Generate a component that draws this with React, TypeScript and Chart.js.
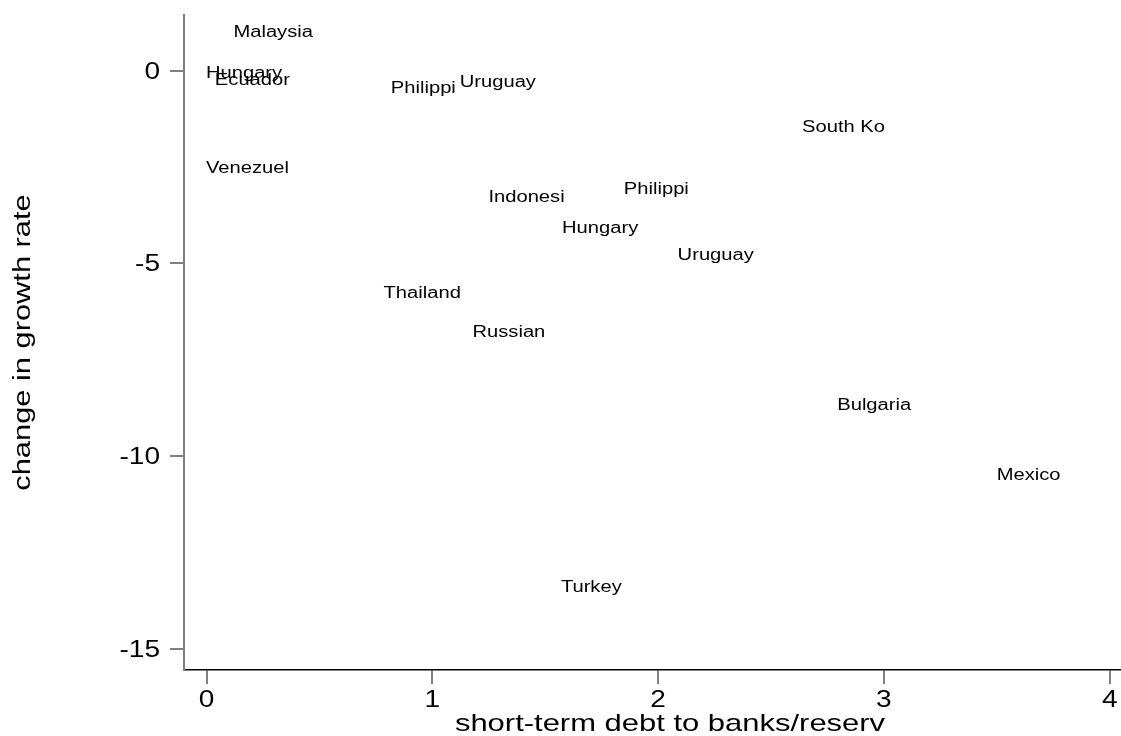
import React, { useEffect, useRef } from "react";
import { Chart, registerables } from "chart.js";

Chart.register(...registerables);

const countries = ["Malaysia", "Hungary", "Ecuador", "Philippi", "Uruguay", "South Ko", "Venezuel", "Indonesi", "Philippi", "Hungary", "Uruguay", "Thailand", "Russian", "Bulgaria", "Mexico", "Turkey"];
const debtToReserves = [0.295, 0.166, 0.203, 0.96, 1.29, 2.821, 0.181, 1.417, 1.992, 1.743, 2.255, 0.955, 1.339, 2.957, 3.641, 1.704];
const growthChange = [0.99, -0.08, -0.25, -0.48, -0.31, -1.48, -2.54, -3.3, -3.09, -4.11, -4.8, -5.78, -6.8, -8.69, -10.51, -13.4];
const xTicks = [0, 1, 2, 3, 4];
const yTicks = [0, -5, -10, -15];
const xTitle = "short-term debt to banks/reserv";
const yTitle = "change in growth rate";

const FONT = "'Liberation Sans', Arial, Helvetica, sans-serif";

function stretchedText(
  ctx: CanvasRenderingContext2D,
  text: string,
  x: number,
  y: number,
  size: number,
  sx: number,
  align: CanvasTextAlign,
  baseline: CanvasTextBaseline,
  rot = 0
) {
  ctx.save();
  ctx.translate(x, y);
  if (rot) ctx.rotate(rot);
  ctx.scale(sx, 1);
  ctx.font = `${size}px ${FONT}`;
  ctx.fillStyle = "#000";
  ctx.textAlign = align;
  ctx.textBaseline = baseline;
  ctx.fillText(text, 0, 0);
  ctx.restore();
}

const textPlugin = {
  id: "stataText",
  afterDraw(chart: any) {
    const ctx = chart.ctx as CanvasRenderingContext2D;
    const xs = chart.scales.x;
    const ys = chart.scales.y;
    const area = chart.chartArea;
    // point labels
    const meta = chart.getDatasetMeta(0);
    meta.data.forEach((el: any, i: number) => {
      stretchedText(ctx, countries[i], el.x, el.y, 16, 1.26, "center", "middle");
    });
    // y tick labels
    yTicks.forEach((v) => {
      const py = ys.getPixelForValue(v);
      stretchedText(ctx, String(v), area.left - 24, py + 8.2, 23, 1.22, "right", "alphabetic");
    });
    // x tick labels
    xTicks.forEach((v) => {
      const px = xs.getPixelForValue(v);
      stretchedText(ctx, String(v), px, area.bottom + 37, 23, 1.22, "center", "alphabetic");
    });
    // titles
    stretchedText(ctx, xTitle, 670, area.bottom + 61, 24, 1.29, "center", "alphabetic");
    stretchedText(ctx, yTitle, 30, (area.top + area.bottom) / 2, 23, 1.34, "center", "alphabetic", -Math.PI / 2);
  },
};

export default function App() {
  const ref = useRef<HTMLCanvasElement | null>(null);
  useEffect(() => {
    if (!ref.current) return;
    const chart = new Chart(ref.current, {
      type: "scatter",
      data: {
        datasets: [
          {
            label: "growth",
            data: debtToReserves.map((x, i) => ({ x, y: growthChange[i] })),
            pointRadius: 0,
            pointHoverRadius: 0,
            showLine: false,
          },
        ],
      },
      options: {
        responsive: false,
        animation: false,
        events: [],
        layout: { padding: { left: 170, top: 15, right: 0, bottom: 52 } },
        plugins: { legend: { display: false }, tooltip: { enabled: false } },
        scales: {
          x: {
            type: "linear",
            min: -0.1,
            max: 4.05,
            afterBuildTicks: (s: any) => {
              s.ticks = xTicks.map((v) => ({ value: v }));
            },
            ticks: { display: false },
            grid: { display: true, drawOnChartArea: false, drawTicks: true, tickLength: 14, color: "#808080", lineWidth: 2 },
            border: { display: true, color: "#000", width: 1.5 },
            title: { display: false },
          },
          y: {
            type: "linear",
            min: -15.55,
            max: 1.44,
            afterBuildTicks: (s: any) => {
              s.ticks = yTicks.map((v) => ({ value: v }));
            },
            ticks: { display: false },
            grid: { display: true, drawOnChartArea: false, drawTicks: true, tickLength: 14, color: "#808080", lineWidth: 2 },
            border: { display: true, color: "#808080", width: 2 },
            title: { display: false },
          },
        },
      },
      plugins: [textPlugin],
    });
    return () => chart.destroy();
  }, []);
  return (
    <div style={{ position: "absolute", left: 0, top: 0, width: 1121, height: 736, background: "#fff" }}>
      <canvas ref={ref} width={1121} height={736} />
    </div>
  );
}
